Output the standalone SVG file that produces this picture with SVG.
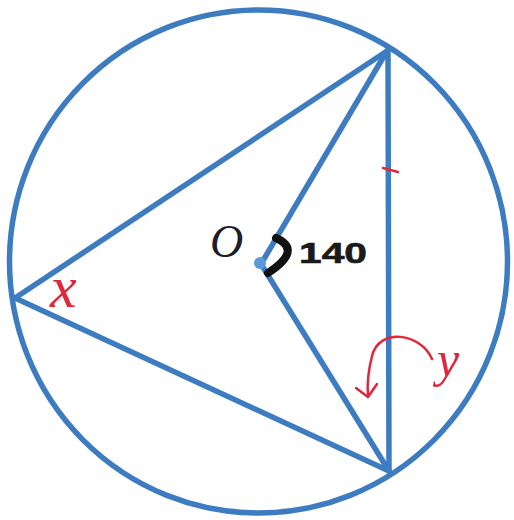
<svg xmlns="http://www.w3.org/2000/svg" width="514" height="520" viewBox="0 0 514 520">
<style>
.blue{fill:none;stroke:#3d7cc0;stroke-width:5.5;stroke-linecap:round}
.red{fill:none;stroke:#e2273c;stroke-width:2.5;stroke-linecap:round;stroke-linejoin:round}
.lbl{font-family:"Liberation Serif",serif;font-style:italic}
</style>
<rect width="514" height="520" fill="#ffffff"/>
<g id="circle">
<ellipse class="blue" cx="258.5" cy="261.5" rx="249" ry="251.5"/>
</g>
<g id="connectors">
<line class="blue" x1="15" y1="298" x2="387" y2="51"/>
<line class="blue" x1="15" y1="298" x2="389" y2="471"/>
<line class="blue" x1="388" y1="51" x2="389" y2="471"/>
<line class="blue" x1="387" y1="51" x2="261" y2="264"/>
<line class="blue" x1="261" y1="264" x2="389" y2="471"/>
</g>
<g id="center-O">
<circle cx="260" cy="263" r="6" fill="#5a9ad8"/>
<text class="lbl" x="210" y="257" font-size="46" fill="#1c1c2c">O</text>
</g>
<g id="angle-140">
<path d="M 276 238 Q 303 250 268 273" fill="none" stroke="#111" stroke-width="8" stroke-linecap="round"/>
<text x="299" y="263" font-family="Liberation Sans,Arial,sans-serif" font-weight="bold" font-size="30" textLength="68" lengthAdjust="spacingAndGlyphs" fill="#1a1a1a" stroke="#1a1a1a" stroke-width="0.6">140</text>
</g>
<g id="angle-x">
<text class="lbl" x="50" y="307" font-size="60" fill="#e2273c">x</text>
</g>
<g id="angle-y">
<path class="red" d="M 432 359 C 421 333, 379 327, 372 356 C 368 372, 367 385, 368 396"/>
<polyline class="red" points="356,388 368,397 377,384"/>
<text class="lbl" x="437" y="376" font-size="50" fill="#e2273c">y</text>
</g>
<g id="tick">
<line x1="383" y1="168" x2="398" y2="172" stroke="#e2273c" stroke-width="2.5" stroke-linecap="round"/>
</g>
</svg>
